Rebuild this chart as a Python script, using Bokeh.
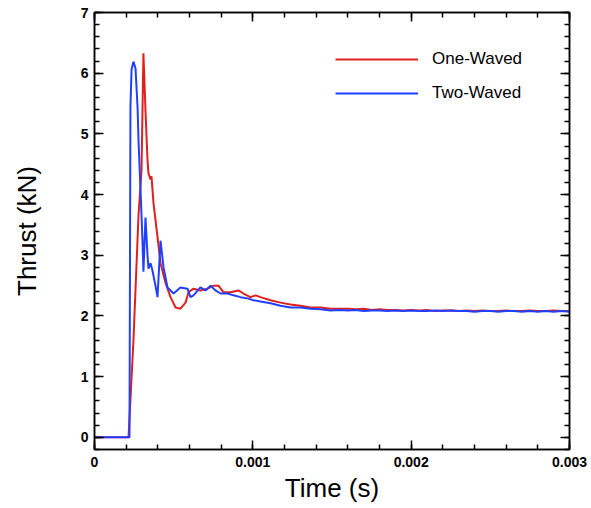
from bokeh.plotting import figure
from bokeh.models import (LinearAxis, SingleIntervalTicker, CustomJSTickFormatter,
                          Range1d, Legend, LegendItem)
from bokeh.embed import file_html
from bokeh.resources import INLINE

# ---- data ----
one_t = [0, 0.000215, 0.000246, 0.000278, 0.000297, 0.000309, 0.000322, 0.000335,
         0.000341, 0.000354, 0.000360, 0.000373, 0.000398, 0.000417, 0.000448,
         0.000480, 0.000512, 0.000543, 0.000575, 0.000594, 0.000625, 0.000669,
         0.000714, 0.000752, 0.000783, 0.000815, 0.000859, 0.000909, 0.000941,
         0.000985, 0.001017, 0.001048, 0.001112, 0.001175, 0.001238, 0.001301,
         0.001364, 0.001427, 0.001491,
         0.00155, 0.0016, 0.00165, 0.0017, 0.00175, 0.0018, 0.00185, 0.0019, 0.00195,
         0.002, 0.00205, 0.0021, 0.00215, 0.0022, 0.00225, 0.0023, 0.00235, 0.0024,
         0.00245, 0.0025, 0.00255, 0.0026, 0.00265, 0.0027, 0.00275, 0.0028, 0.00285,
         0.0029, 0.00295, 0.003]
one_f = [0, 0, 1.60, 3.66, 4.40, 6.33, 5.39, 4.56,
         4.35, 4.25, 4.30, 3.85, 3.30, 2.87, 2.55,
         2.31, 2.14, 2.12, 2.22, 2.39, 2.45, 2.42,
         2.45, 2.50, 2.50, 2.39, 2.39, 2.42, 2.37,
         2.31, 2.34, 2.31, 2.26, 2.22, 2.19, 2.17,
         2.14, 2.14, 2.12,
         2.12, 2.12, 2.11, 2.12, 2.10, 2.11, 2.10, 2.10, 2.09,
         2.10, 2.09, 2.10, 2.08, 2.09, 2.09, 2.08, 2.09, 2.08,
         2.09, 2.08, 2.08, 2.09, 2.08, 2.08, 2.09, 2.08, 2.08,
         2.09, 2.08, 2.08]

two_t = [0, 0.000221, 0.000227, 0.000234, 0.000246, 0.000259, 0.000272, 0.000278,
         0.000291, 0.000303, 0.000309, 0.000322, 0.000335, 0.000341, 0.000354,
         0.000366, 0.000385, 0.000398, 0.000417, 0.000436, 0.000461, 0.000480,
         0.000499, 0.000543, 0.000587, 0.000606, 0.000625, 0.000669, 0.000701,
         0.000733, 0.000764, 0.000796, 0.000840, 0.000878, 0.000922, 0.000966,
         0.001004, 0.001048, 0.001112, 0.001175, 0.001238, 0.001301, 0.001364,
         0.001427, 0.001491,
         0.00155, 0.0016, 0.00165, 0.0017, 0.00175, 0.0018, 0.00185, 0.0019, 0.00195,
         0.002, 0.00205, 0.0021, 0.00215, 0.0022, 0.00225, 0.0023, 0.00235, 0.0024,
         0.00245, 0.0025, 0.00255, 0.0026, 0.00265, 0.0027, 0.00275, 0.0028, 0.00285,
         0.0029, 0.00295, 0.003]
two_f = [0, 0, 5.44, 6.06, 6.19, 6.08, 5.44, 4.89,
         4.06, 3.24, 2.73, 3.62, 2.99, 2.78, 2.87,
         2.75, 2.50, 2.31, 3.24, 2.80, 2.47, 2.42,
         2.37, 2.47, 2.45, 2.31, 2.34, 2.47, 2.42,
         2.50, 2.42, 2.37, 2.37, 2.34, 2.31, 2.29,
         2.26, 2.24, 2.21, 2.17, 2.14, 2.14, 2.12,
         2.11, 2.09,
         2.10, 2.09, 2.10, 2.08, 2.09, 2.09, 2.08, 2.09, 2.08,
         2.09, 2.08, 2.08, 2.09, 2.08, 2.09, 2.08, 2.08, 2.07,
         2.08, 2.08, 2.07, 2.08, 2.08, 2.07, 2.08, 2.07, 2.08,
         2.07, 2.08, 2.07]

series_names = ["One-Waved", "Two-Waved"]
x_label = "Time (s)"
y_label = "Thrust (kN)"

RED = "#e0201e"
BLUE = "#2040ff"
FONT = "Liberation Sans"

p = figure(width=591, height=508, output_backend="svg", toolbar_location=None,
           x_range=Range1d(0, 0.003), y_range=Range1d(-0.2, 7),
           min_border_left=94, min_border_right=22, min_border_top=12,
           min_border_bottom=59, x_axis_location=None, y_axis_location=None)
p.grid.visible = False
p.outline_line_color = "black"
p.outline_line_width = 1.5
p.background_fill_color = "white"
p.border_fill_color = "white"

r1 = p.line(one_t, one_f, line_color=RED, line_width=2)
r2 = p.line(two_t, two_f, line_color=BLUE, line_width=2)

fmt = CustomJSTickFormatter(code="return tick == 0 ? '0' : tick.toFixed(3);")

def style(ax, show_labels):
    ax.axis_line_color = "black"
    ax.axis_line_width = 1.5
    ax.major_tick_in = 9
    ax.major_tick_out = 0
    ax.minor_tick_in = 5
    ax.minor_tick_out = 0
    ax.major_tick_line_width = 1.5
    ax.minor_tick_line_width = 1.5
    if show_labels:
        ax.major_label_text_font = FONT
        ax.major_label_text_font_style = "bold"
        ax.major_label_text_font_size = "14px"
        ax.major_label_text_color = "black"
        ax.axis_label_text_font = FONT
        ax.axis_label_text_font_style = "normal"
        ax.axis_label_text_font_size = "26px"
        ax.axis_label_text_color = "black"
    else:
        ax.major_label_text_font_size = "0px"
        ax.major_label_text_color = None
        ax.major_label_standoff = 0

xb = LinearAxis(ticker=SingleIntervalTicker(interval=0.001, num_minor_ticks=5),
                formatter=fmt, axis_label=x_label)
style(xb, True)
xb.major_label_standoff = 7
xb.axis_label_standoff = 3
p.add_layout(xb, "below")

yl = LinearAxis(ticker=SingleIntervalTicker(interval=1, num_minor_ticks=5),
                axis_label=y_label)
style(yl, True)
yl.major_label_standoff = 6
yl.axis_label_standoff = 36
p.add_layout(yl, "left")

xt = LinearAxis(ticker=SingleIntervalTicker(interval=0.001, num_minor_ticks=5))
style(xt, False)
p.add_layout(xt, "above")

yr = LinearAxis(ticker=SingleIntervalTicker(interval=1, num_minor_ticks=5))
style(yr, False)
p.add_layout(yr, "right")

legend = Legend(items=[LegendItem(label=series_names[0], renderers=[r1]),
                       LegendItem(label=series_names[1], renderers=[r2])],
                location=(241, 346), border_line_color=None,
                background_fill_alpha=0, padding=0, margin=0,
                glyph_width=83, glyph_height=20, label_height=20,
                spacing=14, label_standoff=14,
                label_text_font=FONT, label_text_font_size="17px",
                label_text_color="black")
p.add_layout(legend, "center")

open("out.html", "w").write(file_html(p, INLINE))
